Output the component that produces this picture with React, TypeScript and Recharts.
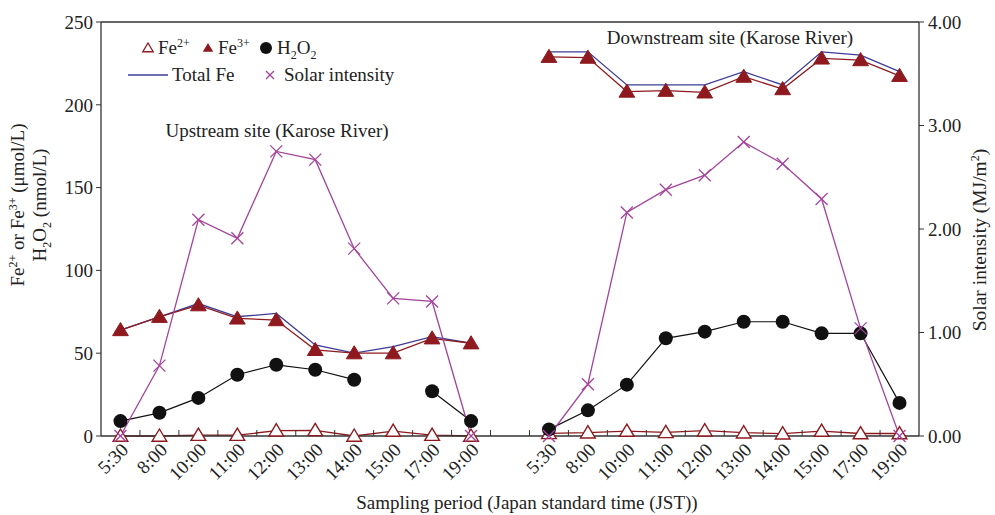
import React from "react";
import { ComposedChart, Line, XAxis, YAxis, ReferenceLine } from "recharts";

// sampling times, same for both sites
const times = ["5:30", "8:00", "10:00", "11:00", "12:00", "13:00", "14:00", "15:00", "17:00", "19:00"];

// Upstream site (Karose River)
const upFe2 = [0, 0, 0.5, 0.5, 3.2, 3.4, 0, 3, 0.5, 0];
const upFe3 = [64, 72, 79, 71, 70, 52, 50, 50, 59, 56];
const upTotalFe = [64, 72, 80, 72, 74, 55, 50, 54, 60, 56];
const upH2O2 = [9, 14, 23, 37, 43, 40, 34, null, 27, 9];
const upSolar = [0, 0.68, 2.09, 1.91, 2.75, 2.67, 1.81, 1.33, 1.3, 0];

// Downstream site (Karose River)
const downFe2 = [1.6, 2, 3, 2.2, 3.2, 2, 1.4, 3, 1.5, 1.5];
const downFe3 = [229, 228.5, 208, 208.5, 207.5, 217, 209.5, 228, 227, 217.5];
const downTotalFe = [232, 232, 212, 212, 212, 220, 212, 232, 230, 220];
const downH2O2 = [4, 15.5, 31, 59, 63, 69, 69, 62, 62, 20];
const downSolar = [0, 0.5, 2.16, 2.38, 2.52, 2.84, 2.63, 2.29, 1.04, 0];

const leftTicks = [0, 50, 100, 150, 200, 250];
const rightTicks = [0, 1, 2, 3, 4];

const FONT = "'Liberation Serif', 'Times New Roman', serif";
const RED = "#8e1a1f";
const BLUE = "#3c3c98";
const MAGENTA = "#a3449c";
const AXIS = "#333";

// one slot per time at each site plus an empty slot between the sites
const rows = [
  ...times.map((t, i) => ({
    x: i + 0.5,
    fe2: upFe2[i],
    fe3: upFe3[i],
    total: upTotalFe[i],
    h2o2: upH2O2[i],
    solar: upSolar[i],
  })),
  { x: times.length + 0.5, fe2: null, fe3: null, total: null, h2o2: null, solar: null },
  ...times.map((t, i) => ({
    x: times.length + 1 + i + 0.5,
    fe2: downFe2[i],
    fe3: downFe3[i],
    total: downTotalFe[i],
    h2o2: downH2O2[i],
    solar: downSolar[i],
  })),
];

const nSlots = times.length * 2 + 1;
const xTicks: number[] = [];
for (let i = 0; i < nSlots; i++) {
  xTicks.push(i + 0.5);
  if (i + 1 < nSlots) xTicks.push(i + 1);
}

function labelFor(v: number) {
  const idx = Math.floor(v);
  if (idx < times.length) return times[idx];
  if (idx > times.length) return times[idx - times.length - 1];
  return "";
}

function TimeTick(props: any) {
  const { x, y, payload } = props;
  const v = payload.value;
  if (Number.isInteger(v)) {
    return <line x1={x} x2={x} y1={y} y2={y - 6} stroke={AXIS} strokeWidth={1} />;
  }
  const text = labelFor(v);
  if (!text) return <g />;
  const tx = x + 9;
  const ty = y + 15;
  return (
    <text
      x={tx}
      y={ty}
      textAnchor="end"
      transform={`rotate(-45 ${tx} ${ty})`}
      fontFamily={FONT}
      fontSize={19}
      fill="#222"
    >
      {text}
    </text>
  );
}

const tri = (cx: number, cy: number, s: number) =>
  `M${cx},${cy - s} L${cx + s * 1.05},${cy + s * 0.75} L${cx - s * 1.05},${cy + s * 0.75} Z`;

function Fe2Dot(props: any) {
  const { cx, cy, value } = props;
  if (value == null || cy == null) return <g />;
  return <path d={tri(cx, cy, 7)} fill="#fff" stroke={RED} strokeWidth={1.4} />;
}

function Fe3Dot(props: any) {
  const { cx, cy, value } = props;
  if (value == null || cy == null) return <g />;
  return <path d={tri(cx, cy, 7.5)} fill={RED} stroke={RED} strokeWidth={1} />;
}

function H2O2Dot(props: any) {
  const { cx, cy, value } = props;
  if (value == null || cy == null) return <g />;
  return <circle cx={cx} cy={cy} r={7} fill="#111" />;
}

function SolarDot(props: any) {
  const { cx, cy, value } = props;
  if (value == null || cy == null) return <g />;
  const s = 6;
  return (
    <g stroke={MAGENTA} strokeWidth={1.3}>
      <line x1={cx - s} y1={cy - s} x2={cx + s} y2={cy + s} />
      <line x1={cx - s} y1={cy + s} x2={cx + s} y2={cy - s} />
    </g>
  );
}

function Overlay() {
  const sup = (t: string) => (
    <>
      <tspan dy={-7} fontSize={12}>{t}</tspan>
      <tspan dy={7}> </tspan>
    </>
  );
  return (
    <svg
      width={995}
      height={515}
      style={{ position: "absolute", left: 0, top: 0, pointerEvents: "none" }}
      fontFamily={FONT}
      fill="#222"
    >
      {/* left axis title, two lines */}
      <text transform="translate(24 205) rotate(-90)" textAnchor="middle" fontSize={19}>
        Fe<tspan dy={-7} fontSize={12}>2+</tspan>
        <tspan dy={7}> or Fe</tspan>
        <tspan dy={-7} fontSize={12}>3+</tspan>
        <tspan dy={7}> (μmol/L)</tspan>
      </text>
      <text transform="translate(46 205) rotate(-90)" textAnchor="middle" fontSize={19}>
        H<tspan dy={5} fontSize={12}>2</tspan>
        <tspan dy={-5}>O</tspan>
        <tspan dy={5} fontSize={12}>2</tspan>
        <tspan dy={-5}> (nmol/L)</tspan>
      </text>
      {/* right axis title */}
      <text transform="translate(986 240) rotate(-90)" textAnchor="middle" fontSize={19.5}>
        Solar intensity (MJ/m<tspan dy={-7} fontSize={12}>2</tspan>
        <tspan dy={7}>)</tspan>
      </text>
      {/* x axis title */}
      <text x={527} y={509} textAnchor="middle" fontSize={19}>
        Sampling period (Japan standard time (JST))
      </text>

      {/* panel titles */}
      <text x={277} y={137} textAnchor="middle" fontSize={19}>
        Upstream site (Karose River)
      </text>
      <text x={730} y={44} textAnchor="middle" fontSize={19}>
        Downstream site (Karose River)
      </text>

      {/* legend */}
      <path d={tri(148, 48, 5)} fill="#fff" stroke={RED} strokeWidth={1.3} />
      <text x={158} y={54} fontSize={19}>
        Fe{sup("2+")}
      </text>
      <path d={tri(208, 48, 5)} fill={RED} />
      <text x={218} y={54} fontSize={19}>
        Fe{sup("3+")}
      </text>
      <circle cx={266} cy={48} r={6} fill="#111" />
      <text x={277} y={54} fontSize={19}>
        H<tspan dy={5} fontSize={12}>2</tspan>
        <tspan dy={-5}>O</tspan>
        <tspan dy={5} fontSize={12}>2</tspan>
      </text>
      <line x1={128} x2={168} y1={75} y2={75} stroke={BLUE} strokeWidth={1.3} />
      <text x={172} y={81} fontSize={19}>
        Total Fe
      </text>
      <g stroke={MAGENTA} strokeWidth={1.2}>
        <line x1={266} y1={71} x2={274} y2={79} />
        <line x1={266} y1={79} x2={274} y2={71} />
      </g>
      <text x={284} y={81} fontSize={19}>
        Solar intensity
      </text>
    </svg>
  );
}

export default function App() {
  return (
    <div style={{ position: "absolute", left: 0, top: 0, width: 995, height: 515, background: "#fff" }}>
      <ComposedChart
        width={995}
        height={515}
        data={rows}
        margin={{ top: 22, right: 0, bottom: 0, left: 0 }}
      >
        <XAxis
          dataKey="x"
          type="number"
          domain={[0, nSlots]}
          allowDataOverflow
          ticks={xTicks}
          interval={0}
          tickLine={false}
          tickSize={0}
          tickMargin={0}
          tick={<TimeTick />}
          height={79}
          axisLine={{ stroke: AXIS, strokeWidth: 1.3 }}
        />
        <YAxis
          yAxisId="left"
          domain={[0, 250]}
          ticks={leftTicks}
          width={101}
          tickSize={5}
          tickMargin={3}
          axisLine={{ stroke: AXIS, strokeWidth: 1.3 }}
          tickLine={{ stroke: AXIS }}
          tick={{ fontFamily: FONT, fontSize: 19, fill: "#222" }}
        />
        <YAxis
          yAxisId="right"
          orientation="right"
          domain={[0, 4]}
          ticks={rightTicks}
          width={76}
          tickSize={5}
          tickMargin={4}
          tickFormatter={(v: number) => v.toFixed(2)}
          axisLine={{ stroke: AXIS, strokeWidth: 1.3 }}
          tickLine={{ stroke: AXIS }}
          tick={{ fontFamily: FONT, fontSize: 19, fill: "#222" }}
        />
        <ReferenceLine yAxisId="left" y={250} stroke={AXIS} strokeWidth={1.3} />
        <Line
          yAxisId="left"
          dataKey="total"
          stroke={BLUE}
          strokeWidth={1.3}
          dot={false}
          activeDot={false}
          isAnimationActive={false}
        />
        <Line
          yAxisId="left"
          dataKey="fe3"
          stroke={RED}
          strokeWidth={1.3}
          dot={<Fe3Dot />}
          activeDot={false}
          isAnimationActive={false}
        />
        <Line
          yAxisId="left"
          dataKey="fe2"
          stroke={RED}
          strokeWidth={1.3}
          dot={<Fe2Dot />}
          activeDot={false}
          isAnimationActive={false}
        />
        <Line
          yAxisId="left"
          dataKey="h2o2"
          stroke="#111"
          strokeWidth={1.2}
          dot={<H2O2Dot />}
          activeDot={false}
          isAnimationActive={false}
        />
        <Line
          yAxisId="right"
          dataKey="solar"
          stroke={MAGENTA}
          strokeWidth={1.3}
          dot={<SolarDot />}
          activeDot={false}
          isAnimationActive={false}
        />
      </ComposedChart>
      <Overlay />
    </div>
  );
}
